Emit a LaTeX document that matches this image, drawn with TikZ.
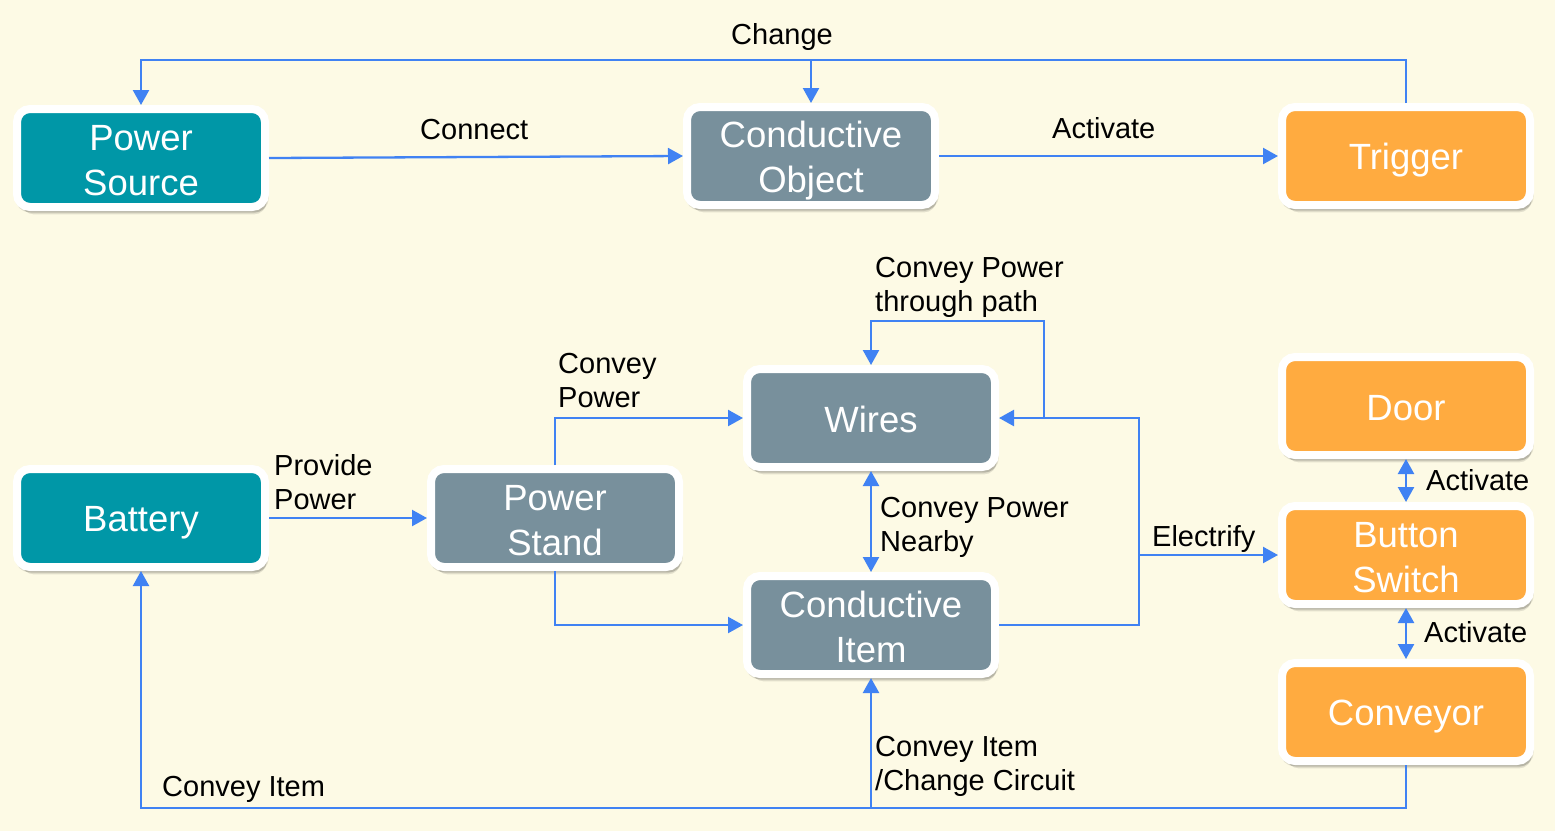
\documentclass[tikz,border=0pt]{standalone}
\usepackage{fontspec}
\setmainfont{Liberation Sans}
\usetikzlibrary{arrows.meta,shadows}
\definecolor{bgc}{RGB}{253,250,229}
\definecolor{tealc}{RGB}{0,151,167}
\definecolor{grayc}{RGB}{120,144,156}
\definecolor{orangec}{RGB}{255,171,64}
\definecolor{linec}{RGB}{64,130,243}
\newcommand\nstrut{\rule[-0.155em]{0pt}{1.115em}}
\tikzset{
  box/.style={draw=white, line width=8pt, rounded corners=13pt,
    minimum width=248pt, minimum height=98pt, text=white, align=center,
    font=\fontsize{36.5}{45}\selectfont,
    drop shadow={shadow xshift=1pt, shadow yshift=-4pt, shadow scale=1.02, opacity=0.10, fill=black},
    drop shadow={shadow xshift=2pt, shadow yshift=-6pt, shadow scale=1.0, opacity=0.10, fill=black},
    drop shadow={shadow xshift=3pt, shadow yshift=-8pt, shadow scale=0.99, opacity=0.10, fill=black}},
  tealbox/.style={box, fill=tealc},
  graybox/.style={box, fill=grayc},
  orangebox/.style={box, fill=orangec},
  conn/.style={draw=linec, line width=2.3pt, -{Triangle[length=15pt,width=16pt]}},
  conn2/.style={draw=linec, line width=2.3pt, {Triangle[length=15pt,width=16pt]}-{Triangle[length=15pt,width=16pt]}},
  lbl/.style={inner sep=0pt, font=\fontsize{29}{34}\selectfont, text=black, anchor=base west},
  mlbl/.style={inner sep=0pt, font=\fontsize{29}{34}\selectfont, text=black, anchor=north west, align=left},
}
\begin{document}
\begin{tikzpicture}[x=1pt,y=-1pt]
\fill[bgc] (0,0) rectangle (1555,831);
\useasboundingbox (0,0) rectangle (1555,831);

% nodes
\node[tealbox]   (ps)    at (141,158) {\nstrut Power\\\nstrut Source};
\node[graybox]   (co)    at (811,156) {\nstrut Conductive\\\nstrut Object};
\node[orangebox] (tr)    at (1406,156) {\nstrut Trigger};
\node[tealbox]   (bat)   at (141,518) {\nstrut Battery};
\node[graybox]   (pst)   at (555,518) {\nstrut Power\\\nstrut Stand};
\node[graybox]   (wires) at (871,418) {\nstrut Wires};
\node[graybox]   (ci)    at (871,625) {\nstrut Conductive\\\nstrut Item};
\node[orangebox] (door)  at (1406,406) {\nstrut Door};
\node[orangebox] (bs)    at (1406,555) {\nstrut Button\\\nstrut Switch};
\node[orangebox] (conv)  at (1406,712) {\nstrut Conveyor};

% helper coordinates
\coordinate (topbar) at (0,60);
\coordinate (rx) at (1139,0);
\coordinate (lx) at (1044,321);
\coordinate (bot) at (0,808);

% top connectors
\draw[conn] (ps.east) -- (co.west);
\draw[conn] (co.east) -- (tr.west);
\draw[conn] (tr.north) -- (tr.north |- topbar) -- (ps.north |- topbar) -- (ps.north);
\draw[conn] (co.north |- topbar) -- (co.north);

% middle connectors
\draw[conn] (bat.east) -- (pst.west);
\draw[conn] (pst.north) |- (wires.west);
\draw[conn] (pst.south) |- (ci.west);
\draw[conn2] (wires.south) -- (ci.north);
\draw[conn] (ci.east) -- (ci.east -| rx) -- (wires.east -| rx) -- (wires.east);
\draw[conn] (wires.east -| lx) -- (lx) -- (lx -| wires.north) -- (wires.north);
\draw[conn] (bs.west -| rx) -- (bs.west);
\draw[conn2] (door.south) -- (bs.north);
\draw[conn2] (bs.south) -- (conv.north);

% bottom connectors
\draw[conn] (conv.south) -- (conv.south |- bot) -- (bat.south |- bot) -- (bat.south);
\draw[conn] (ci.south |- bot) -- (ci.south);

% labels
\node[lbl] (lchange) at (731,44) {Change};
\node[lbl] (lconnect) at (420,139) {Connect};
\node[lbl] (lact1) at (1052,138) {Activate};
\node[mlbl] (lpath) at (875,253) {\strut Convey Power\\through path};
\node[mlbl] (lcp) at (558,349) {\strut Convey\\Power};
\node[mlbl] (lpp) at (274,451) {\strut Provide\\Power};
\node[mlbl] (lnear) at (880,493) {\strut Convey Power\\Nearby};
\node[lbl] (lelec) at (1152,546) {Electrify};
\node[lbl] (lact2) at (1426,490) {Activate};
\node[lbl] (lact3) at (1424,642) {Activate};
\node[mlbl] (lcic) at (875,732) {\strut Convey Item\\/Change Circuit};
\node[lbl] (lci) at (162,796) {Convey Item};
\end{tikzpicture}
\end{document}
